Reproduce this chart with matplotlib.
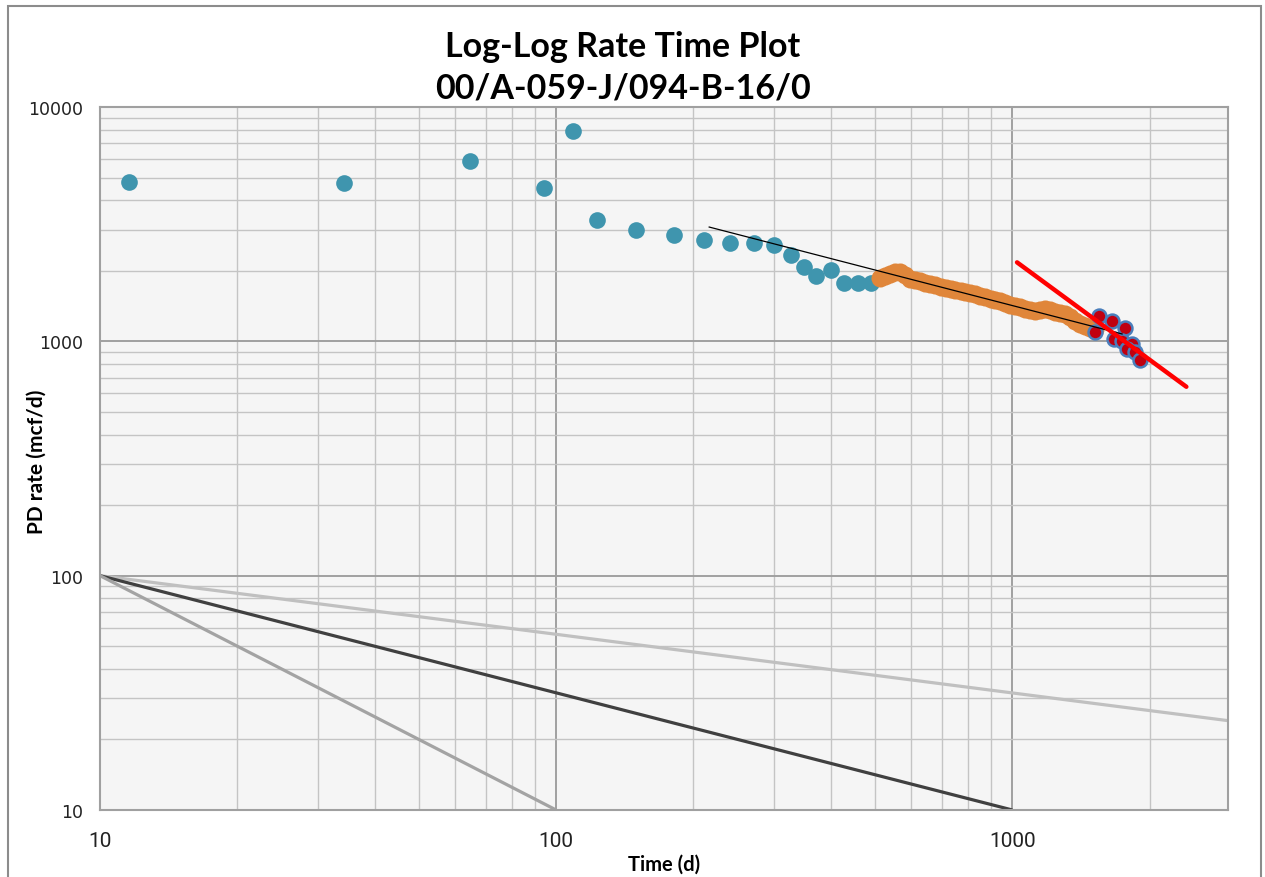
import matplotlib
matplotlib.use("Agg")
import matplotlib.pyplot as plt
from matplotlib.patches import Rectangle
from matplotlib.ticker import LogLocator, FixedLocator, NullFormatter, FixedFormatter

# ---- data ----
blue_t = [11.6, 34.2, 64.8, 94.1, 109, 123, 150, 181, 211, 241, 272, 301, 327, 349, 371, 400, 427, 458, 489]
blue_q = [4770, 4760, 5860, 4500, 7920, 3280, 2990, 2840, 2710, 2635, 2620, 2585, 2330, 2075, 1900, 2010, 1780, 1770, 1770]

orange_t = [513, 527, 540, 554, 568, 583, 598, 613, 629, 645, 661, 678, 696, 714, 732, 750, 770, 789,
            809, 830, 851, 873, 896, 918, 941, 965, 990, 1015, 1041, 1068, 1095, 1123, 1152, 1181,
            1211, 1242, 1274, 1307, 1340, 1375, 1410, 1446, 1483, 1521]
orange_q = [1862, 1899, 1937, 1976, 1976, 1918, 1844, 1826, 1808, 1773, 1756, 1739, 1705, 1688, 1672,
            1656, 1640, 1624, 1608, 1592, 1561, 1546, 1515, 1501, 1486, 1458, 1429, 1415, 1401, 1374,
            1361, 1347, 1361, 1374, 1361, 1334, 1321, 1308, 1270, 1221, 1186, 1162, 1140, 1129]

red_t = [1546, 1654, 1769, 1521, 1668, 1740, 1830, 1784, 1861, 1909]
red_q = [1287, 1225, 1136, 1093, 1023, 1006, 974, 927, 897, 832]

trend_black_t = [216.5, 1740]
trend_black_q = [3074, 1075]
trend_red_t = [1024, 2407]
trend_red_q = [2173, 640]

ref_light_t = [10, 3000]
ref_light_q = [100, 24.0]
ref_dark_t = [10, 1000]
ref_dark_q = [100, 10]
ref_mid_t = [10, 100]
ref_mid_q = [100, 10]

x_ticks = [10, 100, 1000]
x_labels = ["10", "100", "1000"]
y_ticks = [10, 100, 1000, 10000]
y_labels = ["10", "100", "1000", "10000"]

title = "Log-Log Rate Time Plot\n00/A-059-J/094-B-16/0"
xlabel = "Time (d)"
ylabel = "PD rate (mcf/d)"

# ---- figure ----
W, H = 1265, 878
fig = plt.figure(figsize=(W / 100, H / 100), dpi=100)
ax = fig.add_axes([100 / W, 1 - 811 / H, (1228 - 100) / W, (811 - 108) / H])
ax.set_facecolor("#f5f5f5")

ax.set_xscale("log")
ax.set_yscale("log")
ax.set_xlim(10, 2970)
ax.set_ylim(10, 10000)

ax.xaxis.set_major_locator(FixedLocator(x_ticks))
ax.xaxis.set_major_formatter(FixedFormatter(x_labels))
ax.yaxis.set_major_locator(FixedLocator(y_ticks))
ax.yaxis.set_major_formatter(FixedFormatter(y_labels))
ax.xaxis.set_minor_locator(LogLocator(base=10, subs=range(2, 10), numticks=20))
ax.yaxis.set_minor_locator(LogLocator(base=10, subs=range(2, 10), numticks=20))
ax.xaxis.set_minor_formatter(NullFormatter())
ax.yaxis.set_minor_formatter(NullFormatter())

ax.grid(which="major", color="#a0a0a0", lw=1.4, zorder=0)
ax.grid(which="minor", color="#c4c4c4", lw=1.0, zorder=0)
ax.set_axisbelow(True)
ax.tick_params(which="both", length=0)
for s in ax.spines.values():
    s.set_color("#a0a0a0")
    s.set_linewidth(1.5)

narrow = ["Liberation Sans Narrow", "Roboto", "DejaVu Sans"]
for lab in ax.get_xticklabels():
    lab.set_fontfamily(narrow)
    lab.set_fontsize(15)
    lab.set_color("#222222")
for lab in ax.get_yticklabels():
    lab.set_fontfamily(["DejaVu Sans"])
    lab.set_fontsize(12.5)
    lab.set_color("#222222")
ax.tick_params(axis="x", pad=15)
ax.tick_params(axis="y", pad=12)

# reference slope lines
ax.plot(ref_light_t, ref_light_q, color="#c0c0c0", lw=2.3, zorder=2, solid_capstyle="butt")
ax.plot(ref_dark_t, ref_dark_q, color="#404040", lw=2.3, zorder=2, solid_capstyle="butt")
ax.plot(ref_mid_t, ref_mid_q, color="#a3a3a3", lw=2.3, zorder=2, solid_capstyle="butt")

# data
ax.plot(blue_t, blue_q, "o", ms=12, color="#3f95ae", mec="#3f95ae", mew=0, zorder=3)
ax.plot(orange_t, orange_q, "o", ms=13, color="#e0863a", mec="#e0863a", mew=0, zorder=4)
ax.plot(red_t, red_q, "o", ms=10, color="#c00010", mec="#4a7ebb", mew=1.8, zorder=5)

# trend lines
ax.plot(trend_black_t, trend_black_q, color="black", lw=0.9, zorder=6)
ax.plot(trend_red_t, trend_red_q, color="#ff0000", lw=3.2, zorder=7, solid_capstyle="round")

# text
fig.text(623 / W, 1 - 68 / H, title, ha="center", va="center", fontsize=24.5,
         fontweight="bold", family=["Lato", "DejaVu Sans"], linespacing=1.38)
fig.text(664 / W, 1 - 865 / H, xlabel, ha="center", va="center", fontsize=14.5,
         fontweight="bold", family=["Lato", "DejaVu Sans"])
fig.text(37 / W, 1 - 462 / H, ylabel, ha="center", va="center", rotation=90,
         fontsize=15, fontweight="bold", family=["Lato", "DejaVu Sans"])

# chart border
fig.add_artist(Rectangle((8 / W, -0.02), (1261 - 8) / W, 1.02 - 7 / H,
                         transform=fig.transFigure, fill=False, ec="#8c8c8c", lw=1.5))

fig.savefig("out.png", dpi=100, facecolor="white")
